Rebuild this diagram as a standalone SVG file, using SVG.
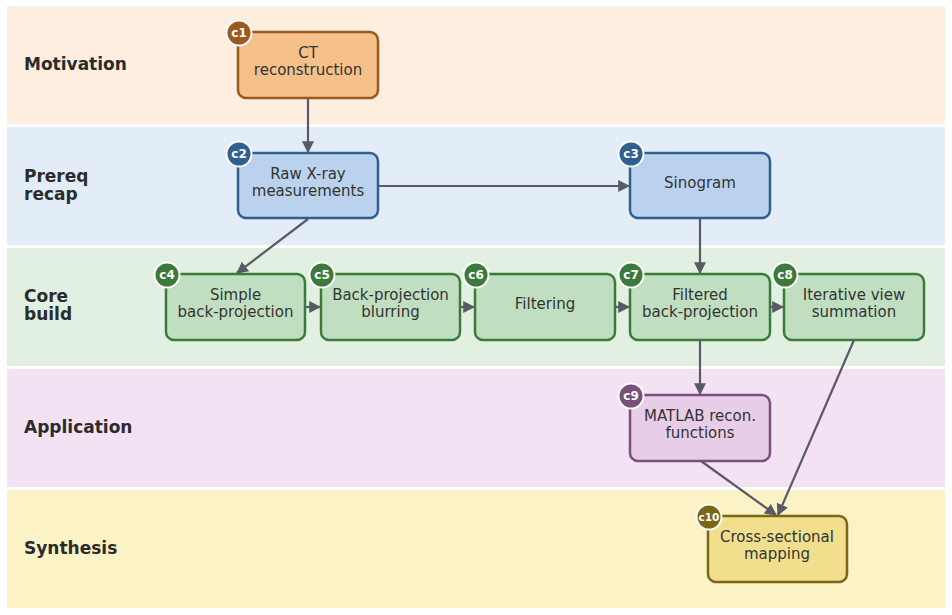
<svg xmlns="http://www.w3.org/2000/svg" width="952" height="615" viewBox="0 0 952 615">
<style>
.lane-label{font-family:"DejaVu Sans",sans-serif;font-weight:bold;font-size:17px;fill:#2b2b2b}
.nt{font-family:"DejaVu Sans",sans-serif;font-size:15px;fill:#333;text-anchor:middle}
.bt{font-family:"DejaVu Sans",sans-serif;font-size:12px;font-weight:bold;fill:#fff;text-anchor:middle}
.node rect{stroke-width:2.5}
.edge{stroke:#5a5a66;stroke-width:2.2;fill:none;marker-end:url(#arr)}
.badge{stroke:#fff;stroke-width:2}
</style>
<defs>
<marker id="arr" viewBox="0 0 10 10" refX="9" refY="5" markerWidth="12" markerHeight="12" orient="auto" markerUnits="userSpaceOnUse">
<path d="M0,0 L10,5 L0,10 z" fill="#5a5a66"/>
</marker>
</defs>
<rect width="952" height="615" fill="#fff"/>
<g id="lanes">
<rect x="7" y="6" width="938" height="118" fill="#fdeedf"/>
<rect x="7" y="127" width="938" height="118" fill="#e3edf8"/>
<rect x="7" y="248" width="938" height="118" fill="#e2f0e2"/>
<rect x="7" y="369" width="938" height="118" fill="#f3e2f3"/>
<rect x="7" y="490" width="938" height="118" fill="#fbf2c5"/>
<text class="lane-label" x="24" y="70">Motivation</text>
<text class="lane-label" x="24" y="181.5">Prereq</text>
<text class="lane-label" x="24" y="200">recap</text>
<text class="lane-label" x="24" y="301.5">Core</text>
<text class="lane-label" x="24" y="320">build</text>
<text class="lane-label" x="24" y="433">Application</text>
<text class="lane-label" x="24" y="554">Synthesis</text>
</g>
<g id="connectors">
<path class="edge" d="M308,98 L308,152"/>
<path class="edge" d="M378,186 L629,186"/>
<path class="edge" d="M308,219 L237,273"/>
<path class="edge" d="M700,219 L700,273"/>
<path class="edge" d="M305,307 L320,307"/>
<path class="edge" d="M460,307 L474,307"/>
<path class="edge" d="M615,307 L629,307"/>
<path class="edge" d="M770,307 L783,307"/>
<path class="edge" d="M700,340 L700,394"/>
<path class="edge" d="M701,461 L776,515"/>
<path class="edge" d="M854,340 L778,515"/>
</g>
<g id="c1" class="node">
<rect x="238" y="32" width="140" height="66" rx="8" fill="#f6c08b" stroke="#9b5a1f"/>
<text class="nt" x="308" y="58">CT</text>
<text class="nt" x="308" y="75">reconstruction</text>
<circle class="badge" cx="239" cy="33" r="12.5" fill="#9b5a1f"/>
<text class="bt" x="239" y="37">c1</text>
</g>
<g id="c2" class="node">
<rect x="238" y="153" width="140" height="65" rx="8" fill="#bad2ed" stroke="#30608f"/>
<text class="nt" x="308" y="179">Raw X-ray</text>
<text class="nt" x="308" y="196">measurements</text>
<circle class="badge" cx="239" cy="154" r="12.5" fill="#30608f"/>
<text class="bt" x="239" y="158">c2</text>
</g>
<g id="c3" class="node">
<rect x="630" y="153" width="140" height="65" rx="8" fill="#bad2ed" stroke="#30608f"/>
<text class="nt" x="700" y="188">Sinogram</text>
<circle class="badge" cx="631" cy="154" r="12.5" fill="#30608f"/>
<text class="bt" x="631" y="158">c3</text>
</g>
<g id="c4" class="node">
<rect x="166" y="274" width="139" height="66" rx="8" fill="#c0dfc0" stroke="#3c7a3c"/>
<text class="nt" x="235.5" y="300">Simple</text>
<text class="nt" x="235.5" y="317">back-projection</text>
<circle class="badge" cx="167" cy="275" r="12.5" fill="#3c7a3c"/>
<text class="bt" x="167" y="279">c4</text>
</g>
<g id="c5" class="node">
<rect x="321" y="274" width="139" height="66" rx="8" fill="#c0dfc0" stroke="#3c7a3c"/>
<text class="nt" x="390.5" y="300">Back-projection</text>
<text class="nt" x="390.5" y="317">blurring</text>
<circle class="badge" cx="322" cy="275" r="12.5" fill="#3c7a3c"/>
<text class="bt" x="322" y="279">c5</text>
</g>
<g id="c6" class="node">
<rect x="475" y="274" width="140" height="66" rx="8" fill="#c0dfc0" stroke="#3c7a3c"/>
<text class="nt" x="545" y="309">Filtering</text>
<circle class="badge" cx="476" cy="275" r="12.5" fill="#3c7a3c"/>
<text class="bt" x="476" y="279">c6</text>
</g>
<g id="c7" class="node">
<rect x="630" y="274" width="140" height="66" rx="8" fill="#c0dfc0" stroke="#3c7a3c"/>
<text class="nt" x="700" y="300">Filtered</text>
<text class="nt" x="700" y="317">back-projection</text>
<circle class="badge" cx="631" cy="275" r="12.5" fill="#3c7a3c"/>
<text class="bt" x="631" y="279">c7</text>
</g>
<g id="c8" class="node">
<rect x="784" y="274" width="140" height="66" rx="8" fill="#c0dfc0" stroke="#3c7a3c"/>
<text class="nt" x="854" y="300">Iterative view</text>
<text class="nt" x="854" y="317">summation</text>
<circle class="badge" cx="785" cy="275" r="12.5" fill="#3c7a3c"/>
<text class="bt" x="785" y="279">c8</text>
</g>
<g id="c9" class="node">
<rect x="630" y="395" width="140" height="66" rx="8" fill="#e7cde7" stroke="#7a4f7a"/>
<text class="nt" x="700" y="421">MATLAB recon.</text>
<text class="nt" x="700" y="438">functions</text>
<circle class="badge" cx="631" cy="396" r="12.5" fill="#7a4f7a"/>
<text class="bt" x="631" y="400">c9</text>
</g>
<g id="c10" class="node">
<rect x="708" y="516" width="139" height="66" rx="8" fill="#f2df8e" stroke="#7a6614"/>
<text class="nt" x="777" y="542">Cross-sectional</text>
<text class="nt" x="777" y="559">mapping</text>
<circle class="badge" cx="709" cy="517" r="12.5" fill="#7a6614"/>
<text class="bt" x="709" y="521" style="font-size:10.5px">c10</text>
</g>
</svg>
